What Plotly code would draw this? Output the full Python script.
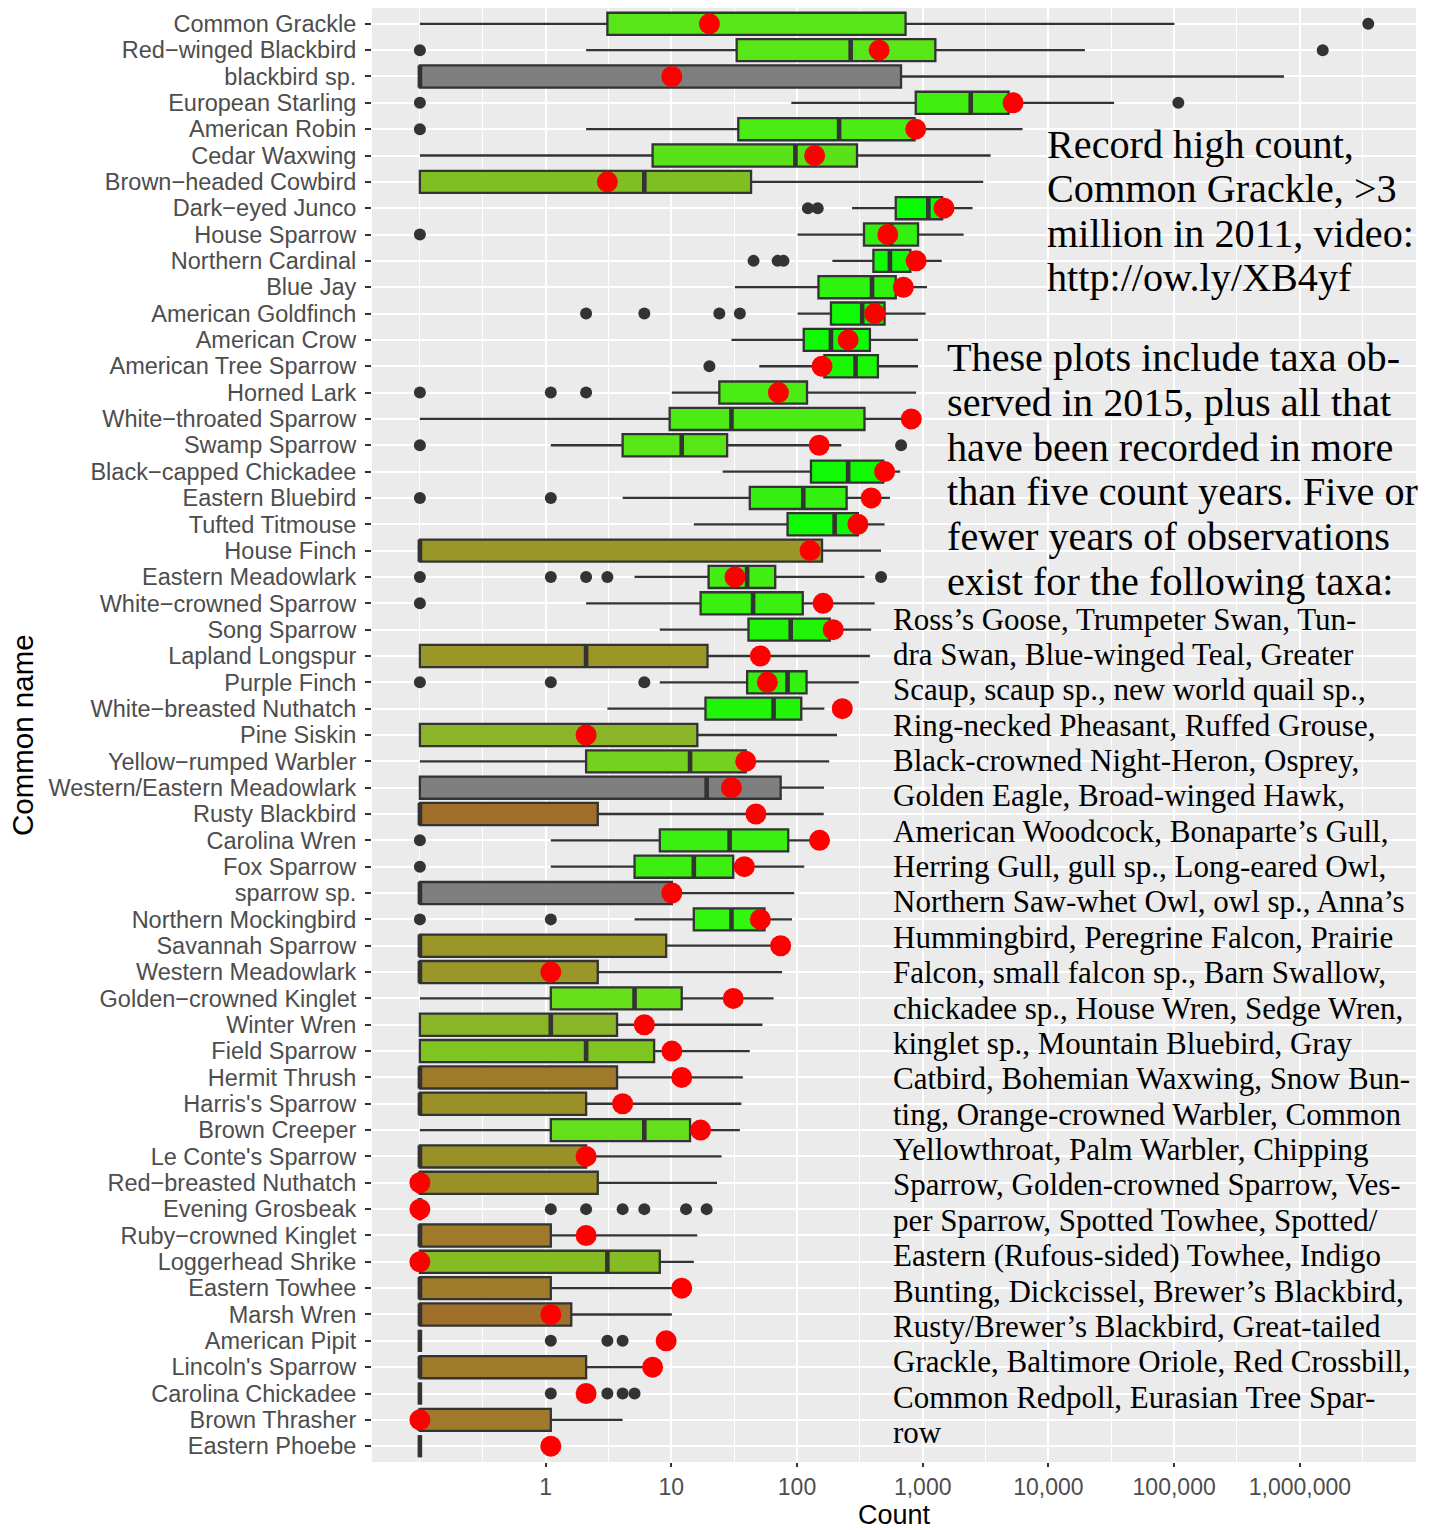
import plotly.graph_objects as go

# ---------------- data ----------------
species = [
    "Common Grackle", "Red−winged Blackbird", "blackbird sp.", "European Starling",
    "American Robin", "Cedar Waxwing", "Brown−headed Cowbird", "Dark−eyed Junco",
    "House Sparrow", "Northern Cardinal", "Blue Jay", "American Goldfinch",
    "American Crow", "American Tree Sparrow", "Horned Lark", "White−throated Sparrow",
    "Swamp Sparrow", "Black−capped Chickadee", "Eastern Bluebird", "Tufted Titmouse",
    "House Finch", "Eastern Meadowlark", "White−crowned Sparrow", "Song Sparrow",
    "Lapland Longspur", "Purple Finch", "White−breasted Nuthatch", "Pine Siskin",
    "Yellow−rumped Warbler", "Western/Eastern Meadowlark", "Rusty Blackbird", "Carolina Wren",
    "Fox Sparrow", "sparrow sp.", "Northern Mockingbird", "Savannah Sparrow",
    "Western Meadowlark", "Golden−crowned Kinglet", "Winter Wren", "Field Sparrow",
    "Hermit Thrush", "Harris's Sparrow", "Brown Creeper", "Le Conte's Sparrow",
    "Red−breasted Nuthatch", "Evening Grosbeak", "Ruby−crowned Kinglet", "Loggerhead Shrike",
    "Eastern Towhee", "Marsh Wren", "American Pipit", "Lincoln's Sparrow",
    "Carolina Chickadee", "Brown Thrasher", "Eastern Phoebe",
]

whisker_low = [0, 2, 0, 90, 2, 0, 0, 274, 101, 191, 32, 101, 30, 50, 10, 0, 1, 25.5, 4, 15,
               0, 5, 2, 8, 0, 8, 3, 0, 0, 0, 0, 1, 1, 0, 5, 0, 0, 0, 0, 0,
               0, 0, 0, 0, 0, 0, 0, 0, 0, 0, 0, 0, 0, 0, 0]
quart1 = [3, 33, 0, 880, 34, 7, 0, 610, 341, 405, 148, 186, 113, 165, 24, 9.6, 4, 129, 42, 84,
          0, 19.7, 17, 41, 0, 40, 18.6, 0, 2, 0, 0, 8, 5, 0, 15, 0, 0, 1, 0, 0,
          0, 0, 1, 0, 0, 0, 0, 0, 0, 0, 0, 0, 0, 0, 0]
median = [20, 267, 0, 2410, 216, 97, 6, 1108, 560, 548, 395, 330, 186, 292, 70, 30, 12, 255, 112, 199,
          0, 40, 44.6, 89, 2, 84, 65, 2, 14, 19, 0, 29, 15, 0, 30, 0, 0, 5, 1, 2,
          0, 0, 6, 0, 0, 0, 0, 3, 0, 0, 0, 0, 0, 0, 0]
quart3 = [730, 1260, 672, 4820, 860, 300, 43, 1427, 918, 798, 610, 497, 380, 440, 120, 344, 27.7, 485, 248, 305,
          158, 67, 111, 182, 19.3, 119, 108, 16, 39, 74, 2.5, 85, 31, 10, 55, 9, 2.5, 12, 3.6, 7.2,
          3.6, 2, 14, 2, 2.5, 0, 1, 8, 1, 1.5, 0, 2, 0, 1, 0]
whisker_high = [100500, 19500, 748000, 33300, 6220, 3470, 3030, 2490, 2115, 1416, 1081, 1055, 918, 918, 886, 700, 225, 662, 548, 497,
                466, 344, 415, 389, 380, 310, 165, 208, 180, 164, 163, 140, 114, 95, 91, 70, 76, 65, 53, 42,
                37, 36, 35, 25, 23, 0, 16, 15, 10, 10, 0, 6, 0, 4, 0]
outlier_counts = [
    [3500000], [0, 1520000], [], [0, 108000], [0], [], [], [122, 146], [0], [45, 70, 78],
    [], [2, 6, 24, 35], [], [20], [0, 1, 2], [], [0, 673], [], [0, 1], [],
    [], [0, 1, 2, 3, 466], [0], [], [], [0, 1, 6], [], [], [], [],
    [], [0], [0], [], [0, 1], [], [], [], [], [],
    [], [], [], [], [], [1, 2, 4, 6, 13, 19], [], [], [], [],
    [1, 3, 4], [], [1, 3, 4, 5], [], [],
]
count_2015 = [20, 450, 10, 5230, 880, 138, 3, 1476, 527, 886, 701, 415, 255, 158, 71, 811, 150, 497, 389, 305,
              127, 32, 161, 194, 51, 58, 229, 2, 39, 30, 47, 151, 38, 10, 51, 74, 1, 31, 6, 10,
              12, 4, 17, 2, 0, 0, 2, 0, 12, 1, 9, 7, 2, 0, 1]

x_tick_values = [1, 10, 100, 1000, 10000, 100000, 1000000]
x_tick_labels = ["1", "10", "100", "1,000", "10,000", "100,000", "1,000,000"]

note_record = ["Record high count,", "Common Grackle, >3", "million in 2011, video:", "http://ow.ly/XB4yf"]
note_scope = ["These plots include taxa ob-", "served in 2015, plus all that",
              "have been recorded in more", "than five count years. Five or",
              "fewer years of observations", "exist for the following taxa:"]
note_taxa = [
    "Ross’s Goose, Trumpeter Swan, Tun-", "dra Swan, Blue-winged Teal, Greater",
    "Scaup, scaup sp., new world quail sp.,", "Ring-necked Pheasant, Ruffed Grouse,",
    "Black-crowned Night-Heron, Osprey,", "Golden Eagle, Broad-winged Hawk,",
    "American Woodcock, Bonaparte’s Gull,", "Herring Gull, gull sp., Long-eared Owl,",
    "Northern Saw-whet Owl, owl sp., Anna’s", "Hummingbird, Peregrine Falcon, Prairie",
    "Falcon, small falcon sp., Barn Swallow,", "chickadee sp., House Wren, Sedge Wren,",
    "kinglet sp., Mountain Bluebird, Gray", "Catbird, Bohemian Waxwing, Snow Bun-",
    "ting, Orange-crowned Warbler, Common", "Yellowthroat, Palm Warbler, Chipping",
    "Sparrow, Golden-crowned Sparrow, Ves-", "per Sparrow, Spotted Towhee, Spotted/",
    "Eastern (Rufous-sided) Towhee, Indigo", "Bunting, Dickcissel, Brewer’s Blackbird,",
    "Rusty/Brewer’s Blackbird, Great-tailed", "Grackle, Baltimore Oriole, Red Crossbill,",
    "Common Redpoll, Eurasian Tree Spar-", "row",
]

# ---------------- styles ----------------
box_fill = [
    "#59E619", "#59E619", "#7F7F7F", "#3FF00F", "#4CEB14", "#59E219", "#80BF22", "#0AFC02",
    "#33F010", "#10F905", "#2FF20E", "#10F905", "#10F905", "#1AF705", "#4BEB14", "#4CEB14",
    "#59E619", "#10F905", "#33F010", "#10F905", "#9A9628", "#44ED12", "#3AF010", "#20F508",
    "#9A9628", "#33F010", "#20F508", "#8AB526", "#75D11E", "#7F7F7F", "#A06D2A", "#3AF010",
    "#3CEF10", "#7F7F7F", "#33F50F", "#9A9628", "#9A9628", "#66E01A", "#8AB526", "#7EC522",
    "#9E7A2A", "#9A9028", "#63E01A", "#9A9028", "#9A9028", "#9E742A", "#9E7A2A", "#85BC24",
    "#9E7A2A", "#A0702A", "#9E742A", "#9E7A2A", "#9E742A", "#9E7A2A", "#9E742A",
]
OFFSET = 0.1          # counts are shifted by 0.1 so zeros can sit on the log axis
DARK = "#333333"
PANEL_L, PANEL_R, PANEL_T, PANEL_B = 372, 1416, 8, 1462


def shift(v):
    return v + OFFSET


def paper_x(px):
    return (px - PANEL_L) / (PANEL_R - PANEL_L)


def paper_y(py):
    return (PANEL_B - py) / (PANEL_B - PANEL_T)


fig = go.Figure()

for i, name in enumerate(species):
    fig.add_trace(go.Box(
        y=[name], orientation="h",
        q1=[shift(quart1[i])], median=[shift(median[i])], q3=[shift(quart3[i])],
        lowerfence=[shift(whisker_low[i])], upperfence=[shift(whisker_high[i])],
        fillcolor=box_fill[i], line=dict(color=DARK, width=2.3),
        whiskerwidth=0, width=0.84, boxpoints=False,
        showlegend=False, hoverinfo="skip",
    ))

# thick median bars (ggplot's fattened median line); line-ns length = 1.4 * size
fig.add_trace(go.Scatter(
    x=[shift(m) for m in median], y=species, mode="markers",
    marker=dict(symbol="line-ns", size=15.8, line=dict(color=DARK, width=4.6)),
    showlegend=False, hoverinfo="skip",
))

# outliers
ox, oy = [], []
for name, vals in zip(species, outlier_counts):
    for v in vals:
        ox.append(shift(v))
        oy.append(name)
fig.add_trace(go.Scatter(
    x=ox, y=oy, mode="markers",
    marker=dict(color=DARK, size=12),
    showlegend=False, hoverinfo="skip",
))

# 2015 counts
fig.add_trace(go.Scatter(
    x=[shift(v) for v in count_2015], y=species, mode="markers",
    marker=dict(color="#FF0000", size=21),
    showlegend=False, hoverinfo="skip",
))

minor_grid = [0.1] + [10 ** (k + 0.5) for k in range(-1, 7)]

fig.update_layout(
    width=1442, height=1530,
    margin=dict(l=PANEL_L, r=1442 - PANEL_R, t=PANEL_T, b=1530 - PANEL_B),
    plot_bgcolor="#EBEBEB", paper_bgcolor="white",
    font=dict(family="Liberation Sans, Arial, sans-serif"),
    showlegend=False,
    xaxis=dict(
        type="log", range=[-1.381, 6.924],
        tickmode="array", tickvals=x_tick_values, ticktext=x_tick_labels,
        showgrid=True, gridcolor="white", gridwidth=2.2,
        ticks="outside", ticklen=4, tickwidth=2.3, tickcolor=DARK,
        tickfont=dict(size=23, color="#4D4D4D"),
        minor=dict(tickmode="array", tickvals=minor_grid, showgrid=True,
                   gridcolor="white", gridwidth=1.1, ticks=""),
        zeroline=False, showline=False, automargin=False,
    ),
    yaxis=dict(
        type="category", categoryorder="array", categoryarray=species,
        tickmode="array", tickvals=species, ticktext=species,
        range=[len(species) - 0.4, -0.6],
        showgrid=True, gridcolor="white", gridwidth=2.2,
        ticks="outside", ticklen=6, tickwidth=2.3, tickcolor=DARK,
        tickfont=dict(size=23.5, color="#4D4D4D"),
        ticklabelstandoff=4,
        zeroline=False, showline=False, automargin=False,
    ),
)

annotations = []
annotations.append(dict(text="Count", x=paper_x(894), y=paper_y(1514.5), xref="paper", yref="paper",
                        xanchor="center", yanchor="middle", showarrow=False, borderpad=0,
                        font=dict(size=27, color="black")))
annotations.append(dict(text="Common name", x=paper_x(22), y=paper_y(735), xref="paper", yref="paper",
                        xanchor="center", yanchor="middle", showarrow=False, textangle=-90,
                        font=dict(size=29.5, color="black")))

serif = "Liberation Serif, Times New Roman, serif"
for j, line in enumerate(note_record):
    annotations.append(dict(text=line, x=paper_x(1045), y=paper_y(144 + 44.5 * j),
                            xref="paper", yref="paper", xanchor="left", yanchor="middle",
                            showarrow=False, font=dict(family=serif, size=40.2, color="black")))
for j, line in enumerate(note_scope):
    annotations.append(dict(text=line, x=paper_x(944.5), y=paper_y(357.5 + 44.8 * j),
                            xref="paper", yref="paper", xanchor="left", yanchor="middle",
                            showarrow=False, font=dict(family=serif, size=40.2, color="black")))
for j, line in enumerate(note_taxa):
    annotations.append(dict(text=line, x=paper_x(891), y=paper_y(619 + 35.37 * j),
                            xref="paper", yref="paper", xanchor="left", yanchor="middle",
                            showarrow=False, font=dict(family=serif, size=31, color="black")))
fig.update_layout(annotations=annotations)

fig.write_html("out.html", config={"displayModeBar": False},
               post_script="document.body.style.margin='0';")
